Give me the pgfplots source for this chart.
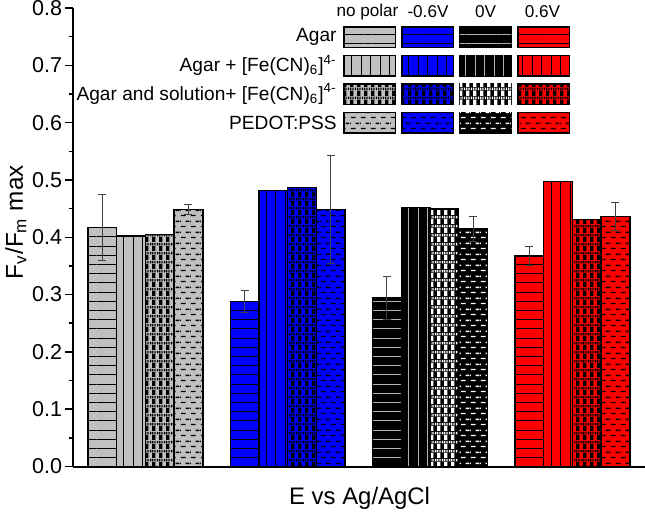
\documentclass[border=0pt]{standalone}
\usepackage{fontspec}
\setmainfont{Liberation Sans}
\usepackage{pgfplots}
\pgfplotsset{compat=1.18}
\usetikzlibrary{patterns,patterns.meta}

\definecolor{cgray}{HTML}{C0C0C0}
\definecolor{lgray}{HTML}{B0B0B0}

% checker-like and dashed fills (Origin style)
\tikzdeclarepattern{
  name=chk, type=uncolored,
  bounding box={(0,0) and (3.65bp,4.65bp)},
  tile size={(3.65bp,4.65bp)},
  code={
    \fill (0,0) rectangle (1.8bp,2.8bp);
    \draw[line width=1.3bp, dash pattern=on 0.456bp off 0.456bp] (0,3.7bp) -- (3.65bp,3.7bp);
  }
}
\tikzdeclarepattern{
  name=dsh, type=uncolored,
  bounding box={(0,0) and (5bp,5.3bp)},
  tile size={(5bp,5.3bp)},
  code={
    \draw[line width=0.7bp] (0.5bp,1.3bp) -- (3bp,1.3bp);
    \draw[line width=0.7bp] (3bp,3.95bp) -- (5bp,3.95bp);
    \draw[line width=0.7bp] (0bp,3.95bp) -- (0.5bp,3.95bp);
  }
}

\tikzset{
  pA/.style={postaction={pattern={Lines[angle=0,distance=4.6bp,line width=0.5bp]},pattern color=#1}},
  pB/.style={postaction={pattern={Lines[angle=90,distance=4.75bp,line width=0.5bp]},pattern color=#1}},
  pC/.style={postaction={pattern=chk,pattern color=#1}},
  pD/.style={postaction={pattern=dsh,pattern color=#1}},
}
\pgfplotsset{
  bb/.style={ybar, bar width=28.7, bar shift=0pt, draw=black, line width=0.75bp},
  eb/.style={error bars/y dir=both, error bars/y explicit,
    error bars/error bar style={line width=0.5bp, color=black!75},
    error bars/error mark options={rotate=90, mark size=2bp, line width=0.5bp, color=black!75}},
}
\newcommand\lf{\fontsize{9.6}{11}\selectfont}
\newcommand\hf{\fontsize{8.6}{10}\selectfont}

\begin{document}
\begin{tikzpicture}
\useasboundingbox (0,0) rectangle (322.5bp,256.5bp);
\begin{axis}[
  at={(36.5bp,23.25bp)}, anchor=south west,
  scale only axis, width=286bp, height=229.25bp,
  xmin=73, xmax=645, ymin=0, ymax=0.8,
  axis x line*=bottom, axis y line*=left,
  axis line style={line width=1bp},
  xtick=\empty,
  ytick={0,0.1,0.2,0.3,0.4,0.5,0.6,0.7,0.8},
  minor y tick num=1,
  tick align=outside,
  major tick length=3.8bp, minor tick length=2.2bp,
  tick style={line width=0.75bp, color=black},
  yticklabel style={/pgf/number format/.cd, fixed, fixed zerofill, precision=1,
    assume math mode=true, /tikz/.cd, font=\fontsize{10.8}{12}\selectfont, inner sep=1.5bp},
  xlabel={E vs Ag/AgCl},
  ylabel={F\textsubscript{v}/F\textsubscript{m} max},
  xlabel style={at={(axis description cs:0.501,-0.0687)}, anchor=center, font=\fontsize{12}{14}\selectfont},
  ylabel style={at={(axis description cs:-0.100,0.533)}, anchor=center, font=\fontsize{12.2}{14}\selectfont},
]
% no polar
\addplot[bb, fill=cgray, pA=black, eb] coordinates {(102.35,0.417) +- (0,0.057)};
\addplot[bb, fill=cgray, pB=black] coordinates {(131.05,0.402)};
\addplot[bb, fill=cgray, pC=black] coordinates {(159.75,0.405)};
\addplot[bb, fill=cgray, pD=black, eb] coordinates {(188.45,0.448) +- (0,0.009)};
% -0.6 V
\addplot[bb, fill=blue, pA=black, eb] coordinates {(244.65,0.288) +- (0,0.019)};
\addplot[bb, fill=blue, pB=black] coordinates {(273.35,0.482)};
\addplot[bb, fill=blue, pC=black] coordinates {(302.05,0.487)};
\addplot[bb, fill=blue, pD=black, eb] coordinates {(330.75,0.448) +- (0,0.094)};
% 0 V
\addplot[bb, fill=black, pA=lgray, eb] coordinates {(386.95,0.294) +- (0,0.038)};
\addplot[bb, fill=black, pB=lgray] coordinates {(415.65,0.452)};
\addplot[bb, fill=black, pC=white] coordinates {(444.35,0.449)};
\addplot[bb, fill=black, pD=white, eb] coordinates {(473.05,0.415) +- (0,0.022)};
% 0.6 V
\addplot[bb, fill=red, pA=black, eb] coordinates {(529.35,0.367) +- (0,0.016)};
\addplot[bb, fill=red, pB=black] coordinates {(558.05,0.497)};
\addplot[bb, fill=red, pC=black] coordinates {(586.75,0.431)};
\addplot[bb, fill=red, pD=black, eb] coordinates {(615.45,0.436) +- (0,0.024)};
\end{axis}

% legend table, in pixel units of the reference
\begin{scope}[x=0.5bp, y=-0.5bp, shift={(0bp,256.5bp)}]
  \node[font=\hf] at (367.5,12) {no polar};
  \node[font=\hf] at (428,12) {-0.6V};
  \node[font=\hf] at (485.5,12) {0V};
  \node[font=\hf] at (542.5,12) {0.6V};
  \begin{scope}[every node/.style={font=\lf, anchor=east, inner sep=0pt}]
    \node at (337,37) {Agar};
    \node at (337,65.5) {Agar + [Fe(CN)\textsubscript{6}]\textsuperscript{4-}};
    \node at (337,94) {Agar and solution+ [Fe(CN)\textsubscript{6}]\textsuperscript{4-}};
    \node at (337,122.5) {PEDOT:PSS};
  \end{scope}
  \foreach \fc/\lc/\dc [count=\i from 0] in {cgray/black/black, blue/black/black, black/lgray/white, red/black/black}{
    \pgfmathsetmacro\xa{344+58*\i}
    \pgfmathsetmacro\xb{\xa+51.5}
    \draw[line width=0.75bp, fill=\fc, pA=\lc] (\xa,27) rectangle (\xb,47.5);
    \draw[line width=0.75bp, fill=\fc, pB=\lc] (\xa,55.5) rectangle (\xb,76);
    \draw[line width=0.75bp, fill=\fc, pC=\dc] (\xa,84) rectangle (\xb,104.5);
    \draw[line width=0.75bp, fill=\fc, pD=\dc] (\xa,112.5) rectangle (\xb,133);
  }
\end{scope}
\end{tikzpicture}
\end{document}
